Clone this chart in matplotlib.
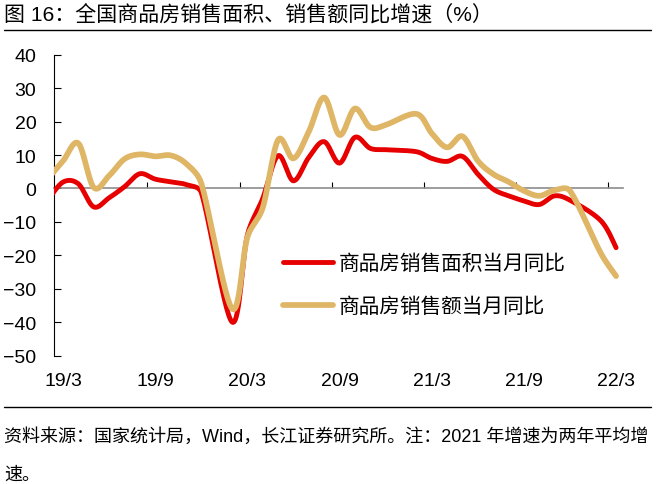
import numpy as np
import matplotlib
matplotlib.use("Agg")
import matplotlib.pyplot as plt
from matplotlib.lines import Line2D
from matplotlib.transforms import blended_transform_factory

plt.rcParams['font.family'] = ['Liberation Sans', 'Noto Sans CJK SC', 'DejaVu Sans']
plt.rcParams['lines.solid_capstyle'] = 'round'

# ---- data ----
months = ["19/2", "19/3", "19/4", "19/5", "19/6", "19/7", "19/8", "19/9", "19/10",
          "19/11", "19/12", "20/2", "20/3", "20/4", "20/5", "20/6", "20/7", "20/8",
          "20/9", "20/10", "20/11", "20/12", "21/2", "21/3", "21/4", "21/5", "21/6",
          "21/7", "21/8", "21/9", "21/10", "21/11", "21/12", "22/2", "22/3"]
area = [-3.6, 1.9, 1.4, -5.5, -2.8, 0.5, 4.4, 2.8, 2.0,
        1.2, -1.2, -39.9, -14.0, -3.0, 9.8, 2.3, 9.3, 14.0,
        7.6, 15.3, 12.0, 11.6, 11.0, 9.0, 8.1, 9.6, 4.3,
        -0.2, -2.2, -3.7, -4.8, -2.2, -3.5, -9.6, -17.7]
amount = [2.8, 8.2, 13.5, 0.3, 3.8, 8.8, 10.2, 9.6, 9.9,
          7.5, 1.6, -35.9, -14.6, -5.8, 14.5, 9.0, 17.0, 27.2,
          16.0, 23.9, 18.3, 19.0, 22.3, 16.5, 12.3, 15.6, 8.3,
          4.3, 2.0, -0.7, -2.2, -0.5, -0.7, -19.3, -26.2]
tick_labels = ["19/3", "19/9", "20/3", "20/9", "21/3", "21/9", "22/3"]
series_names = ["商品房销售面积当月同比", "商品房销售额当月同比"]
title = "图 16：全国商品房销售面积、销售额同比增速（%）"
note1 = "资料来源：国家统计局，Wind，长江证券研究所。注：2021 年增速为两年平均增"
note2 = "速。"


def month_index(s):
    yy, mm = s.split("/")
    return (int(yy) - 19) * 12 + (int(mm) - 3)


def smooth(ax, xs, ys, n=30, cap=0.4):
    """Catmull-Rom style Bezier smoothing in display space, with arm length capped."""
    P = ax.transData.transform(np.column_stack([xs, ys]).astype(float))
    N = len(P)
    D = np.zeros_like(P)
    A = np.zeros(N)
    for i in range(N):
        a = P[i - 1] if i > 0 else P[i]
        b = P[i + 1] if i < N - 1 else P[i]
        d = b - a
        nd = np.linalg.norm(d)
        D[i] = d / nd
        A[i] = nd / 6.0
    out = [P[:1]]
    tt = np.linspace(0, 1, n)[1:, None]
    for i in range(N - 1):
        L = np.linalg.norm(P[i + 1] - P[i])
        c1 = P[i] + D[i] * min(A[i], cap * L)
        c2 = P[i + 1] - D[i + 1] * min(A[i + 1], cap * L)
        seg = ((1 - tt) ** 3) * P[i] + 3 * ((1 - tt) ** 2) * tt * c1 \
            + 3 * (1 - tt) * tt ** 2 * c2 + tt ** 3 * P[i + 1]
        out.append(seg)
    arr = ax.transData.inverted().transform(np.vstack(out))
    return arr[:, 0], arr[:, 1]


x = np.array([month_index(m) for m in months])

W, H = 662, 485
fig = plt.figure(figsize=(W / 100, H / 100), dpi=100)
ax = fig.add_axes([54.5 / W, (H - 356.7) / H, (623 - 54.5) / W, (356.7 - 55.7) / H])
ax.set_xlim(-0.55, 36.45)
ax.set_ylim(-50, 40)

red = "#E60000"
gold = "#DFB566"
sx, sy = smooth(ax, x, area)
ax.plot(sx, sy, color=red, lw=3.5, label=series_names[0], zorder=3)
sx, sy = smooth(ax, x, amount)
ax.plot(sx, sy, color=gold, lw=4.1, label=series_names[1], zorder=4)

ax.set_xlim(-0.55, 36.45)
ax.set_ylim(-50, 40)
ax.set_yticks(np.arange(-50, 41, 10))
ax.tick_params(axis='y', direction='in', length=4.7, width=0.8, pad=13, labelsize=14)

for s in ['top', 'right']:
    ax.spines[s].set_visible(False)
ax.spines['left'].set_linewidth(0.8)
ax.spines['bottom'].set_position(('data', 0))
ax.spines['bottom'].set_color('#8C8C8C')
ax.spines['bottom'].set_linewidth(1.2)
ax.spines['bottom'].set_zorder(2)

label_pos = [month_index(t) for t in tick_labels]
ax.set_xticks([p - 0.5 for p in label_pos[1:]])
ax.set_xticklabels([])
ax.tick_params(axis='x', direction='in', length=4.3, width=0.8, color='black')

trans = blended_transform_factory(ax.transData, ax.transAxes)
for p, t in zip(label_pos, tick_labels):
    ax.text(p, -0.084, t, transform=trans, ha='center', va='center', fontsize=14)

leg = ax.legend(loc='upper left', bbox_to_anchor=(283 / W, 1 - 255 / H),
                bbox_transform=fig.transFigure, frameon=False, fontsize=14.9,
                handlelength=2.4, handletextpad=0.3, labelspacing=1.12,
                borderpad=0, borderaxespad=0)
for lh in leg.get_lines():
    lh.set_solid_capstyle('round')

fig.text(4 / W, 1 - 15 / H, title, fontsize=15.1, va='center', ha='left')
fig.add_artist(Line2D([4 / W, 651 / W], [1 - 31 / H, 1 - 31 / H], color='black', lw=1.0,
                      transform=fig.transFigure))
fig.add_artist(Line2D([4 / W, 651 / W], [1 - 408 / H, 1 - 408 / H], color='black', lw=1.0,
                      transform=fig.transFigure))
fig.text(4 / W, 1 - 436.7 / H, note1, fontsize=13, va='center', ha='left')
fig.text(4 / W, 1 - 475 / H, note2, fontsize=13, va='center', ha='left')

fig.savefig("out.png", dpi=100)
